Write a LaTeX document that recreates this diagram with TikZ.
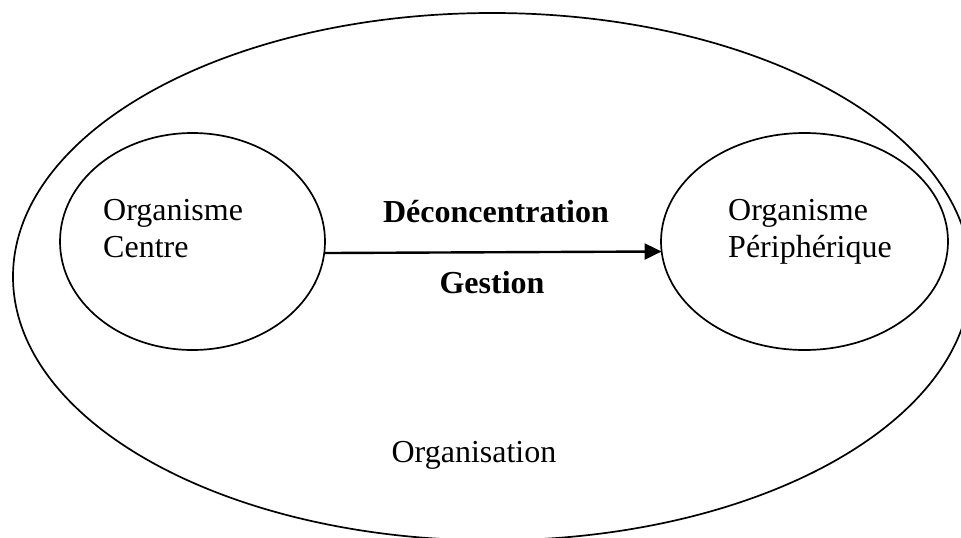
\documentclass[tikz,border=0pt]{standalone}
\usepackage{fontspec}
\setmainfont{Liberation Serif}
\usetikzlibrary{shapes.geometric,arrows.meta}
\begin{document}
\begin{tikzpicture}[x=1pt,y=-1pt,
  oval/.style={draw,ellipse,line width=1.7pt,inner sep=0pt,outer sep=0pt},
  lbl/.style={font=\fontsize{32}{37}\selectfont,inner sep=0pt,anchor=base west,align=left},
  blbl/.style={font=\fontsize{32}{37}\selectfont\bfseries,inner sep=0pt,anchor=base}]
\useasboundingbox (0,0) rectangle (961,538);
\clip (0,0) rectangle (961,538);
\node[oval,minimum width=958pt,minimum height=527.4pt] (org) at (492,276.7) {};
\node[oval,minimum width=265pt,minimum height=217pt] (centre) at (192.5,241.5) {};
\node[oval,minimum width=287pt,minimum height=217pt] (peri) at (804.5,241.5) {};
\node[lbl] (tc1) at (103,220) {Organisme};
\node[lbl] (tc2) at (103,257) {Centre};
\node[lbl] (tp1) at (728,220) {Organisme};
\node[lbl] (tp2) at (728,257) {Périphérique};
\node[blbl] (dec) at (496,222) {Déconcentration};
\node[blbl] (ges) at (492,293) {Gestion};
\node[font=\fontsize{32}{37}\selectfont,inner sep=0pt,anchor=base] (orgl) at (474,462) {Organisation};
\draw[line width=2.4pt,-{Triangle[length=17pt,width=16pt]}] (centre.-5) -- (peri.184.6);
\end{tikzpicture}
\end{document}
